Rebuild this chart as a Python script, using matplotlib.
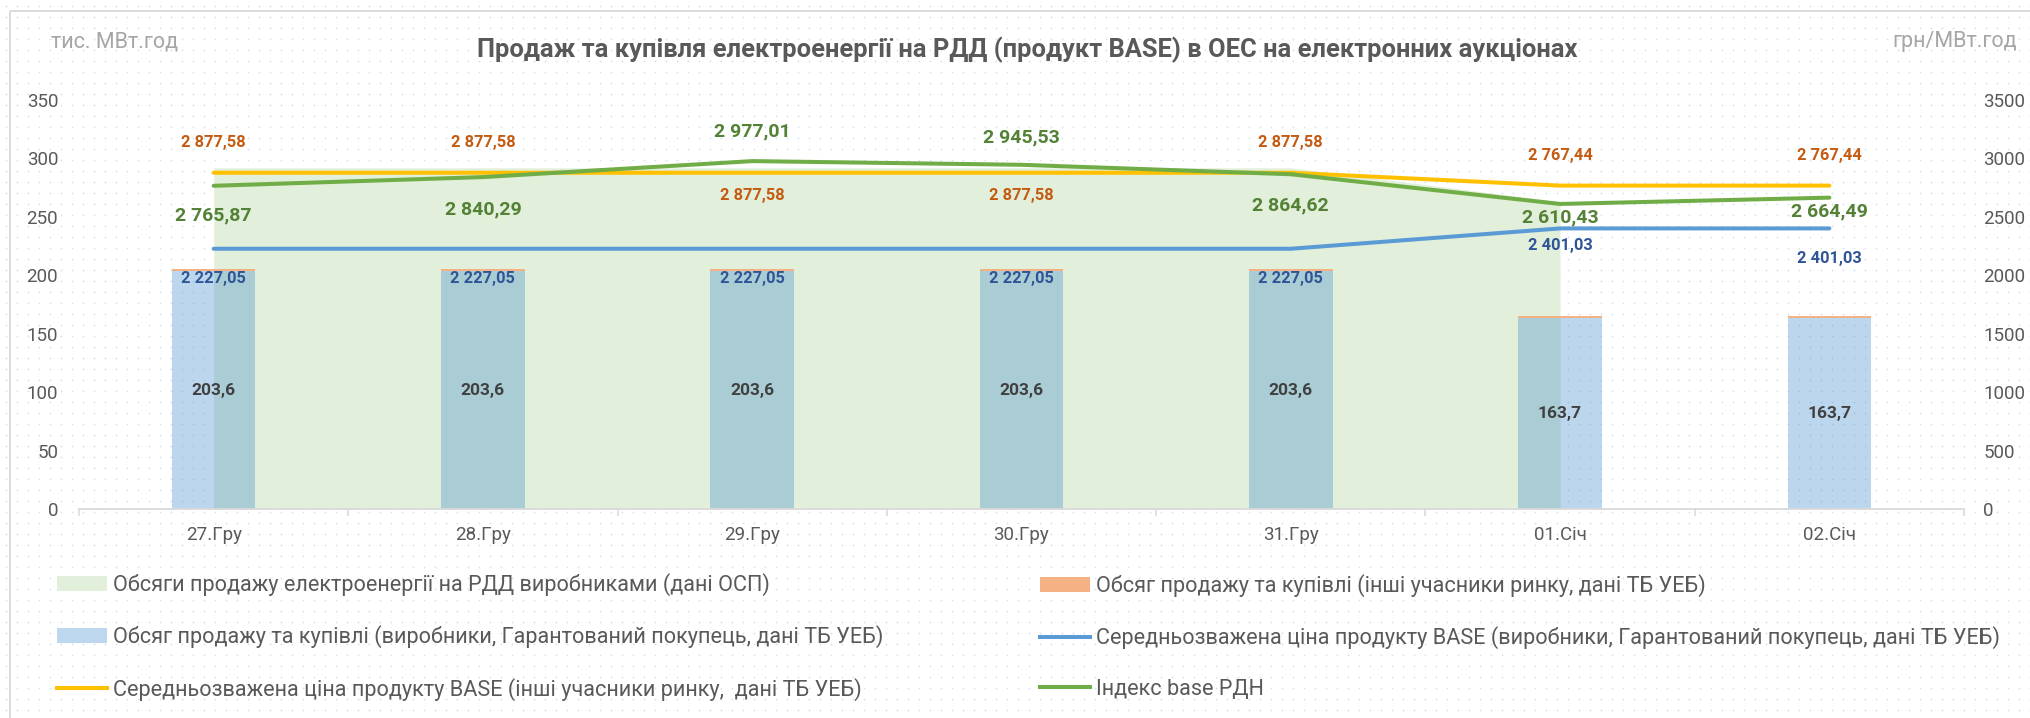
import numpy as np
import matplotlib.pyplot as plt
from matplotlib.patches import Rectangle, Patch
from matplotlib.lines import Line2D

plt.rcParams['font.family'] = ['Roboto', 'DejaVu Sans']

# chart data
days = ['27.Гру', '28.Гру', '29.Гру', '30.Гру', '31.Гру', '01.Січ', '02.Січ']
osp_volume = [292, 292, 292, 292, 292, 263]   # no value for 02.Січ
tb_volume = [203.6, 203.6, 203.6, 203.6, 203.6, 163.7, 163.7]
other_volume = [1.7, 1.7, 1.7, 1.7, 1.7, 1.4, 1.4]
price_producers = [2227.05, 2227.05, 2227.05, 2227.05, 2227.05, 2401.03, 2401.03]
price_others = [2877.58, 2877.58, 2877.58, 2877.58, 2877.58, 2767.44, 2767.44]
index_base = [2765.87, 2840.29, 2977.01, 2945.53, 2864.62, 2610.43, 2664.49]

title = 'Продаж та купівля електроенергії на РДД (продукт BASE) в ОЕС на електронних аукціонах'
labels = [
    'Обсяги продажу електроенергії на РДД виробниками (дані ОСП)',
    'Обсяг продажу та купівлі (виробники, Гарантований покупець, дані ТБ УЕБ)',
    'Середньозважена ціна продукту BASE (інші учасники ринку,  дані ТБ УЕБ)',
    'Обсяг продажу та купівлі (інші учасники ринку, дані ТБ УЕБ)',
    'Середньозважена ціна продукту BASE (виробники, Гарантований покупець, дані ТБ УЕБ)',
    'Індекс base РДН',
]

# label offsets in pixels (up = positive)
others_dy = [30, 30, -23, -23, 30, 30, 30]
index_dy = [-30, -32, 30, 27, -31, -13, -14]
producers_dy = [-30, -30, -30, -30, -30, -17, -30]

c_area = '#E2EFDA'
c_bar = '#3D89CD'
c_orange = '#F4B183'
c_yellow = '#FFC000'
c_blue = '#5B9BD5'
c_green = '#70AD47'
c_text = '#595959'


def fmt2(v):
    return f'{v:,.2f}'.replace(',', ' ').replace('.', ',')


W, H = 2031, 718
fig = plt.figure(figsize=(W / 100, H / 100), dpi=100)

# dotted background and chart border
bg = fig.add_axes([0, 0, 1, 1], zorder=-10)
bg.set_xlim(0, W)
bg.set_ylim(H, 0)
bg.axis('off')
gx, gy = np.meshgrid(np.arange(5.5, W, 11), np.arange(6, H, 11))
bg.plot(gx.ravel(), gy.ravel(), 'o', ms=1.3, mew=0, color='#D3E1F3')
bg.add_patch(Rectangle((10, 11), W + 50, H + 50, fill=False, ec='#D9D9D9', lw=1.3))

ax = fig.add_axes([79 / W, 1 - 509 / H, (1964 - 79) / W, (509 - 100) / H])
ax.patch.set_visible(False)
ax2 = ax.twinx()
ax2.patch.set_visible(False)

x = np.arange(len(days))
ax.fill_between(x[:len(osp_volume)], osp_volume, color=c_area, lw=0, zorder=1)
ax.bar(x, tb_volume, width=0.31, color=c_bar, alpha=0.34, zorder=2)
ax.bar(x, other_volume, bottom=tb_volume, width=0.31, color=c_orange, zorder=2)

for i, v in enumerate(tb_volume):
    ax.text(i, v / 2, f'{v:.1f}'.replace('.', ','), ha='center', va='center',
            fontsize=12.5, fontweight='bold', color='#404040', zorder=5)

ax2.plot(x, price_producers, color=c_blue, lw=2.9, solid_capstyle='round')
ax2.plot(x, price_others, color=c_yellow, lw=2.9, solid_capstyle='round')
ax2.plot(x, index_base, color=c_green, lw=2.9, solid_capstyle='round')

for vals, dys, col, fs in [(price_others, others_dy, '#C55A11', 11.8),
                           (index_base, index_dy, '#538135', 14),
                           (price_producers, producers_dy, '#2F5597', 11.8)]:
    for i, v in enumerate(vals):
        ax2.annotate(fmt2(v), (i, v), xytext=(0, dys[i]), textcoords='offset pixels',
                     ha='center', va='center', fontsize=fs, fontweight='bold', color=col)

ax.set_xlim(-0.5, len(days) - 0.5)
ax.set_ylim(0, 350)
ax.set_yticks(range(0, 351, 50))
ax2.set_ylim(0, 3500)
ax2.set_yticks(range(0, 3501, 500))
ax.set_xticks(x, days)
ax.set_xticks(np.arange(-0.5, len(days), 1), minor=True)
ax.tick_params(axis='x', which='major', length=0, pad=12, labelsize=13.5, labelcolor=c_text)
ax.tick_params(axis='x', which='minor', length=5, width=1.1, color='#D9D9D9')
ax.tick_params(axis='y', length=0, pad=15, labelsize=13.5, labelcolor=c_text)
ax2.tick_params(axis='y', length=0, pad=14, labelsize=13.5, labelcolor=c_text)
for s in ['top', 'left', 'right']:
    ax.spines[s].set_visible(False)
ax.spines['bottom'].set_color('#D9D9D9')
ax.spines['bottom'].set_linewidth(1.3)
for s in ax2.spines.values():
    s.set_visible(False)

fig.text(1027 / W, 1 - 50 / H, title, ha='center', va='center', fontsize=18.4,
         fontweight='bold', color=c_text)
fig.text(51 / W, 1 - 42 / H, 'тис. МВт.год', ha='left', va='center', fontsize=15.5, color='#A6A6A6')
fig.text(2017 / W, 1 - 42 / H, 'грн/МВт.год', ha='right', va='center', fontsize=15.5, color='#A6A6A6')

h1 = [Patch(fc=c_area), Patch(fc='#BDD7EE'), Line2D([], [], color=c_yellow, lw=2.9)]
h2 = [Patch(fc=c_orange), Line2D([], [], color=c_blue, lw=2.9), Line2D([], [], color=c_green, lw=2.9)]
leg_kw = dict(loc='center left', frameon=False, fontsize=15.6, labelcolor=c_text,
              handlelength=2.3, handleheight=0.66, handletextpad=0.3, labelspacing=1.35,
              borderpad=0, borderaxespad=0)
fig.legend(h1, labels[:3], bbox_to_anchor=(57 / W, 1 - 637 / H), **leg_kw)
fig.legend(h2, labels[3:], bbox_to_anchor=(1040 / W, 1 - 637 / H), **leg_kw)

fig.savefig('out.png', dpi=100)
